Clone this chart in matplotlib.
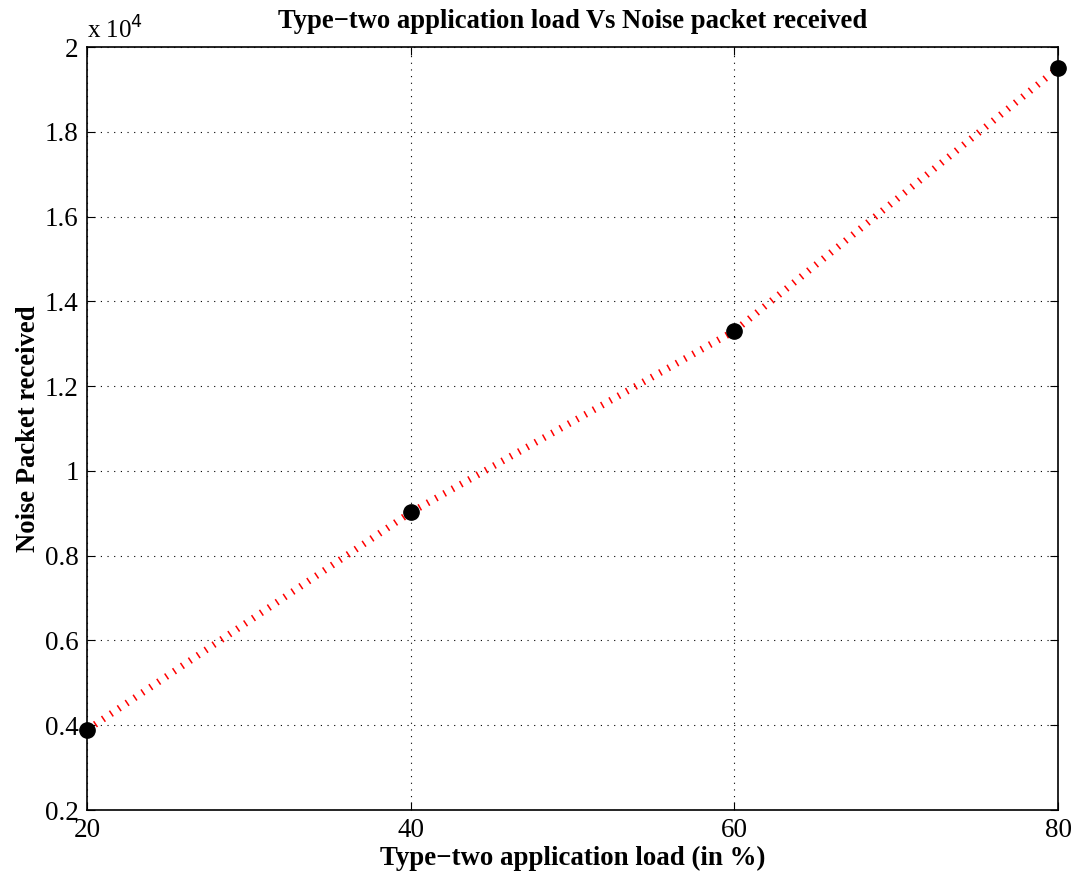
import matplotlib
matplotlib.use('Agg')
import matplotlib.pyplot as plt

load = [20, 40, 60, 80]
noise = [3890, 9020, 13300, 19500]

plt.rcParams['font.family'] = 'Liberation Serif'

W, H = 1077, 876
fig = plt.figure(figsize=(W / 100, H / 100), dpi=100)
ax = fig.add_axes([87 / W, 1 - 810 / H, (1058 - 87) / W, (810 - 47) / H])

ax.plot(load, noise, color='red', linewidth=5,
        linestyle=(0, (0.22, 1.15)), dash_capstyle='butt', zorder=2)
ax.plot(load, noise, 'o', color='black', markersize=11, zorder=3, clip_on=False)

ax.set_xlim(20, 80)
ax.set_ylim(2000, 20000)
ax.set_xticks([20, 40, 60, 80])
yt = [2000 * i for i in range(1, 11)]
ax.set_yticks(yt)
ax.set_yticklabels(['%g' % (v / 1e4) for v in yt])
ax.grid(True, linestyle=(0, (1, 5)), color='black', linewidth=0.8)
ax.tick_params(labelsize=19.5, direction='in', length=6, top=True, right=True, pad=6)
for s in ax.spines.values():
    s.set_linewidth(1.2)

ax.text(0, 1.005, r'x 10$^4$', transform=ax.transAxes, fontsize=18, va='bottom', ha='left')
ax.set_title('Type\u2212two application load Vs Noise packet received',
             fontsize=19.2, fontweight='bold', pad=14)
ax.set_xlabel('Type\u2212two application load (in %)', fontsize=19.4, fontweight='bold', labelpad=2)
ax.set_ylabel('Noise Packet received', fontsize=19.2, fontweight='bold', labelpad=3)

fig.savefig('out.png', dpi=100)
